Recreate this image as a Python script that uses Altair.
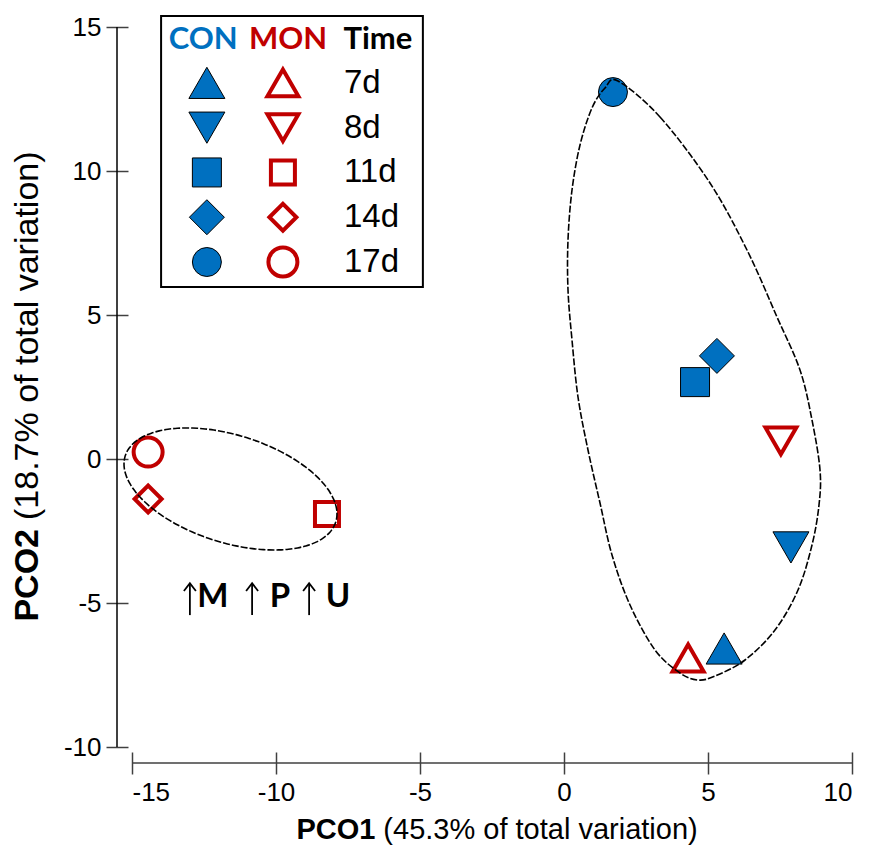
import altair as alt
import numpy as np
import pandas as pd

# ---- data -------------------------------------------------------------
times = ["7d", "8d", "11d", "14d", "17d"]

con_x = [5.56, 7.88, 4.55, 5.31, 1.70]
con_y = [-6.58, -3.07, 2.67, 3.58, 12.74]

mon_x = [4.31, 7.53, -8.23, -14.44, -14.44]
mon_y = [-6.91, 0.63, -1.91, -1.39, 0.24]

# dashed outline around the right-hand cluster (closed curve)
right_hull_x = [1.875, 3.333, 5.069, 6.354, 7.396, 8.194, 8.611, 8.889, 8.854, 8.611,
                8.125, 7.326, 6.285, 5.243, 4.653, 4.028, 3.160, 2.292, 1.667, 1.250,
                0.833, 0.486, 0.278, 0.139, 0.139, 0.278, 0.556, 0.972, 1.424]
right_hull_y = [13.125, 11.875, 9.583, 7.257, 4.931, 3.090, 1.354, -0.382, -1.597, -2.986,
                -4.549, -5.938, -6.979, -7.535, -7.674, -7.431, -6.632, -5.069, -3.333, -1.528,
                0.313, 2.153, 4.132, 5.868, 7.604, 9.340, 10.903, 12.188, 12.882]

# dashed ellipse around the early MON samples: centre and spread
left_ell_center = (-11.58, -1.04)
left_ell_cov = [[13.67, -3.20], [-3.20, 4.49]]

tick_values = [-15, -10, -5, 0, 5, 10]
y_tick_values = [-10, -5, 0, 5, 10, 15]

# ---- styling ----------------------------------------------------------
BLUE = "#0070C0"
RED = "#C00000"
AXIS_GREY = "#404040"
W, H = 720, 720

shape_range = ["triangle-up", "triangle-down", "square", "diamond", "circle"]
con_sizes = dict(zip(times, [1296, 1296, 841, 1225, 841]))
mon_sizes = dict(zip(times, [961, 961, 576, 729, 841]))

xs = alt.Scale(domain=[-15, 10], nice=False, zero=False)
ys = alt.Scale(domain=[-10, 15], nice=False, zero=False)
axis_common = dict(domain=False, grid=False, tickSize=22, tickColor=AXIS_GREY, tickWidth=1.5,
                   labelFont="Liberation Sans", labelFontSize=26, labelColor="black",
                   labelPadding=5, title=None, labelExpr="'' + datum.value")
x_axis = alt.Axis(values=tick_values, offset=5, **axis_common)
y_axis = alt.Axis(values=y_tick_values, offset=4, **axis_common)


def X(field):
    return alt.X(field, type="quantitative", scale=xs, axis=x_axis)


def Y(field):
    return alt.Y(field, type="quantitative", scale=ys, axis=y_axis)


shape_enc = alt.Shape("time:N", scale=alt.Scale(domain=times, range=shape_range), legend=None)
size_enc = alt.Size("size:Q", scale=None, legend=None)

# ---- tables -----------------------------------------------------------
con_df = pd.DataFrame({"time": times, "x": con_x, "y": con_y,
                       "size": [con_sizes[t] for t in times]})
mon_df = pd.DataFrame({"time": times, "x": mon_x, "y": mon_y,
                       "size": [mon_sizes[t] for t in times]})

# ellipse outline from centre + covariance (Cholesky factor maps the unit circle)
t = np.linspace(0, 2 * np.pi, 120, endpoint=False)
L = np.linalg.cholesky(np.array(left_ell_cov))
ell = L @ np.vstack([np.cos(t), np.sin(t)])
left_x = left_ell_center[0] + ell[0]
left_y = left_ell_center[1] + ell[1]

hull_df = pd.concat([
    pd.DataFrame({"cluster": "right", "i": range(len(right_hull_x)),
                  "x": right_hull_x, "y": right_hull_y}),
    pd.DataFrame({"cluster": "left", "i": range(len(left_x)), "x": left_x, "y": left_y}),
])

# legend layout (data units)
LEG_COL_CON, LEG_COL_MON, LEG_LABEL_X = -12.40, -9.76, -7.64
LEG_ROW0, LEG_STEP = 13.06, 1.555
leg_rows = [LEG_ROW0 - i * LEG_STEP for i in range(len(times))]
leg_con = pd.DataFrame({"time": times, "x": LEG_COL_CON, "y": leg_rows,
                        "size": [con_sizes[t] for t in times]})
leg_mon = pd.DataFrame({"time": times, "x": LEG_COL_MON, "y": leg_rows,
                        "size": [mon_sizes[t] for t in times]})
leg_lab = pd.DataFrame({"time": times, "x": LEG_LABEL_X, "y": leg_rows})
leg_box = pd.DataFrame({"x": [-13.99], "x2": [-4.90], "y": [15.38], "y2": [5.97]})
leg_head = pd.DataFrame({"txt": ["CON", "MON", "Time"], "x": [-12.53, -9.58, -6.46],
                         "y": [14.55] * 3, "col": [BLUE, RED, "black"]})

# annotation under the left cluster: up-arrows followed by letters
ann_letters = pd.DataFrame({"txt": ["M", "P", "U"], "x": [-12.19, -9.86, -7.85], "y": [-5.14] * 3})
ann_arrows = pd.DataFrame({"x": [-12.99, -10.83, -8.85], "top": [-4.31] * 3, "bottom": [-5.42] * 3})
ARROW_HEAD = "M -1 1.3 L 0 0 L 1 1.3"

# axis lines (offset from the plot area)
x_line = pd.DataFrame({"a": [-15], "b": [10]})
y_line = pd.DataFrame({"a": [15], "b": [-10]})

# ---- layers -----------------------------------------------------------
base_x_line = alt.Chart(x_line).mark_rule(color=AXIS_GREY, strokeWidth=1.5).encode(
    x=X("a"), x2="b", y=alt.value(H + 16))
base_y_line = alt.Chart(y_line).mark_rule(color="black", strokeWidth=1.5).encode(
    y=Y("a"), y2="b", x=alt.value(-15))

con_pts = alt.Chart(con_df).mark_point(filled=True, fill=BLUE, stroke="black", strokeWidth=1,
                                       opacity=1).encode(
    x=X("x"), y=Y("y"), shape=shape_enc, size=size_enc)
mon_pts = alt.Chart(mon_df).mark_point(filled=False, stroke=RED, strokeWidth=4,
                                       opacity=1).encode(
    x=X("x"), y=Y("y"), shape=shape_enc, size=size_enc)

hulls = alt.Chart(hull_df).mark_line(color="black", strokeWidth=1.6, strokeDash=[7, 2],
                                     interpolate="cardinal-closed").encode(
    x=X("x"), y=Y("y"), order="i:Q", detail="cluster:N")

box = alt.Chart(leg_box).mark_rect(fill="white", stroke="black", strokeWidth=2).encode(
    x=X("x"), x2="x2", y=Y("y"), y2="y2")
leg_c = alt.Chart(leg_con).mark_point(filled=True, fill=BLUE, stroke="black", strokeWidth=1,
                                      opacity=1).encode(
    x=X("x"), y=Y("y"), shape=shape_enc, size=size_enc)
leg_m = alt.Chart(leg_mon).mark_point(filled=False, stroke=RED, strokeWidth=4,
                                      opacity=1).encode(
    x=X("x"), y=Y("y"), shape=shape_enc, size=size_enc)
leg_t = alt.Chart(leg_lab).mark_text(font="Liberation Sans", fontSize=33, align="left",
                                     baseline="middle", color="black").encode(
    x=X("x"), y=Y("y"), text="time:N")
leg_h = alt.Chart(leg_head).mark_text(font="Lato", fontWeight="bold", fontSize=31,
                                      align="center", baseline="middle").encode(
    x=X("x"), y=Y("y"), text="txt:N", color=alt.Color("col:N", scale=None))

ann_l = alt.Chart(ann_letters).mark_text(font="Lato", fontWeight="bold", fontSize=33,
                                         align="center", baseline="alphabetic",
                                         color="black").encode(
    x=X("x"), y=Y("y"), text="txt:N")
ann_shaft = alt.Chart(ann_arrows).mark_rule(color="black", strokeWidth=1.8).encode(
    x=X("x"), y=Y("top"), y2="bottom")
ann_head = alt.Chart(ann_arrows).mark_point(shape=ARROW_HEAD, size=144, filled=False,
                                            stroke="black", strokeWidth=1.8, opacity=1,
                                            strokeJoin="miter").encode(
    x=X("x"), y=Y("top"))

# axis titles with a bold lead word
xt = pd.DataFrame({"x": [-6.55]})
x_t1 = alt.Chart(xt).mark_text(text="PCO1", font="Liberation Sans", fontWeight="bold",
                               fontSize=29, align="right", baseline="middle",
                               color="black").encode(x=X("x"), y=alt.value(H + 83))
x_t2 = alt.Chart(xt).mark_text(text="(45.3% of total variation)", font="Liberation Sans",
                               fontSize=29, align="left", baseline="middle", dx=8,
                               color="black").encode(x=X("x"), y=alt.value(H + 83))
yt = pd.DataFrame({"y": [-2.43]})
y_t1 = alt.Chart(yt).mark_text(text="PCO2", font="Liberation Sans", fontWeight="bold",
                               fontSize=34, angle=270, align="right", baseline="middle",
                               color="black").encode(y=Y("y"), x=alt.value(-104))
y_t2 = alt.Chart(yt).mark_text(text="(18.7% of total variation)", font="Liberation Sans",
                               fontSize=34, angle=270, align="left", baseline="middle", dx=9,
                               color="black").encode(y=Y("y"), x=alt.value(-104))

chart = alt.layer(
    base_x_line, base_y_line, con_pts, mon_pts, hulls,
    box, leg_c, leg_m, leg_t, leg_h, ann_shaft, ann_head, ann_l,
    x_t1, x_t2, y_t1, y_t2,
).properties(
    width=W, height=H,
    background="white",
    autosize=alt.AutoSizeParams(type="none"),
    padding={"left": 132, "top": 27, "right": 17, "bottom": 98},
).configure_view(stroke=None)

chart.save("out.html", embed_options={"renderer": "svg", "actions": False})
